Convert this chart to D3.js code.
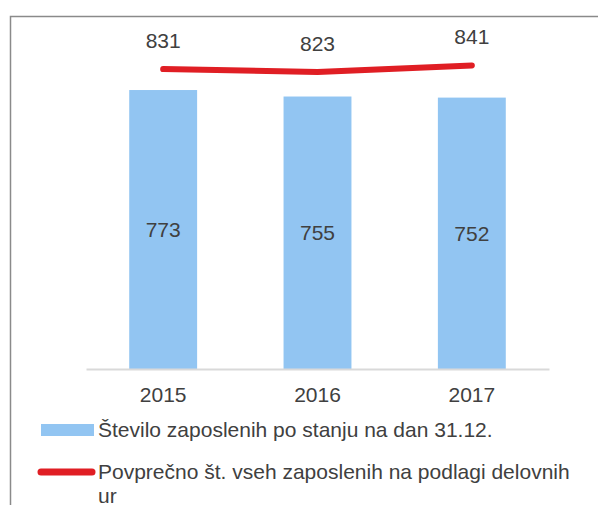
<!DOCTYPE html>
<html>
<head>
<meta charset="utf-8">
<script src="https://cdn.jsdelivr.net/npm/d3@7"></script>
<style>
  body { margin: 0; background: #fff; }
  text { font-family: "Liberation Sans", Arial, sans-serif; fill: #404040; }
</style>
</head>
<body>
<script>
// podatki
var years = ["2015", "2016", "2017"];
var zaposleni = [773, 755, 752];          // stolpci
var povprecno = [831, 823, 841];          // crta
var legendNames = ["Število zaposlenih po stanju na dan 31.12.",
                   "Povprečno št. vseh zaposlenih na podlagi delovnih ur"];

var width = 598, height = 505;
var fontSize = 21;

var svg = d3.select("body").append("svg")
  .attr("width", width)
  .attr("height", height);

// okvir (zgoraj in levo)
svg.append("path")
  .attr("d", "M10.5," + height + "V16.5H" + width)
  .attr("fill", "none")
  .attr("stroke", "#8a8a8a")
  .attr("stroke-width", 1.5);

var x = d3.scaleBand()
  .domain(years)
  .range([86, 549])
  .paddingInner(0.56)
  .paddingOuter(0.28);

var y = d3.scaleLinear()
  .domain([0, 900])
  .range([369, 369 - 900 * 0.3609]);

// stolpci
svg.selectAll("rect.bar")
  .data(zaposleni)
  .enter().append("rect")
  .attr("class", "bar")
  .attr("x", function(d, i) { return x(years[i]); })
  .attr("y", function(d) { return y(d); })
  .attr("width", x.bandwidth())
  .attr("height", function(d) { return y(0) - y(d); })
  .attr("fill", "#92c5f2");

// os x
svg.append("g")
  .attr("transform", "translate(0," + y(0) + ")")
  .call(d3.axisBottom(x).tickSize(0).tickPadding(18))
  .call(function(g) {
    g.select(".domain").attr("stroke", "#d9d9d9").attr("stroke-width", 2);
    g.selectAll("text")
      .attr("font-size", fontSize)
      .attr("font-family", "Liberation Sans, Arial, sans-serif")
      .attr("fill", "#404040");
  });

// oznake v stolpcih
svg.selectAll("text.barlab")
  .data(zaposleni)
  .enter().append("text")
  .attr("class", "barlab")
  .attr("x", function(d, i) { return x(years[i]) + x.bandwidth() / 2; })
  .attr("y", function(d) { return (y(d) + y(0)) / 2; })
  .attr("dy", "0.35em")
  .attr("text-anchor", "middle")
  .attr("font-size", fontSize)
  .text(function(d) { return d; });

// crta
var line = d3.line()
  .x(function(d, i) { return x(years[i]) + x.bandwidth() / 2; })
  .y(function(d) { return y(d); });

svg.append("path")
  .datum(povprecno)
  .attr("d", line)
  .attr("fill", "none")
  .attr("stroke", "#e01e24")
  .attr("stroke-width", 6)
  .attr("stroke-linecap", "round")
  .attr("stroke-linejoin", "round");

svg.selectAll("text.linelab")
  .data(povprecno)
  .enter().append("text")
  .attr("class", "linelab")
  .attr("x", function(d, i) { return x(years[i]) + x.bandwidth() / 2; })
  .attr("y", function(d) { return y(d) - 21; })
  .attr("text-anchor", "middle")
  .attr("font-size", fontSize)
  .text(function(d) { return d; });

// legenda
var leg = svg.append("g");

leg.append("rect")
  .attr("x", 41).attr("y", 424)
  .attr("width", 53).attr("height", 12)
  .attr("fill", "#92c5f2");

leg.append("line")
  .attr("x1", 41).attr("x2", 92)
  .attr("y1", 472).attr("y2", 472)
  .attr("stroke", "#e01e24")
  .attr("stroke-width", 7)
  .attr("stroke-linecap", "round");

function wrap(textSel, maxWidth, lineHeight) {
  textSel.each(function() {
    var t = d3.select(this),
        words = t.text().split(" "),
        xPos = t.attr("x"),
        cur = [];
    t.text(null);
    var tspan = t.append("tspan").attr("x", xPos);
    words.forEach(function(w) {
      cur.push(w);
      tspan.text(cur.join(" "));
      if (tspan.node().getComputedTextLength() > maxWidth && cur.length > 1) {
        cur.pop();
        tspan.text(cur.join(" "));
        cur = [w];
        tspan = t.append("tspan").attr("x", xPos).attr("dy", lineHeight).text(w);
      }
    });
  });
}

leg.selectAll("text.leglab")
  .data(legendNames)
  .enter().append("text")
  .attr("class", "leglab")
  .attr("x", 98)
  .attr("y", function(d, i) { return i === 0 ? 437 : 479; })
  .attr("font-size", fontSize)
  .text(function(d) { return d; })
  .call(wrap, 485, 24);
</script>
</body>
</html>
